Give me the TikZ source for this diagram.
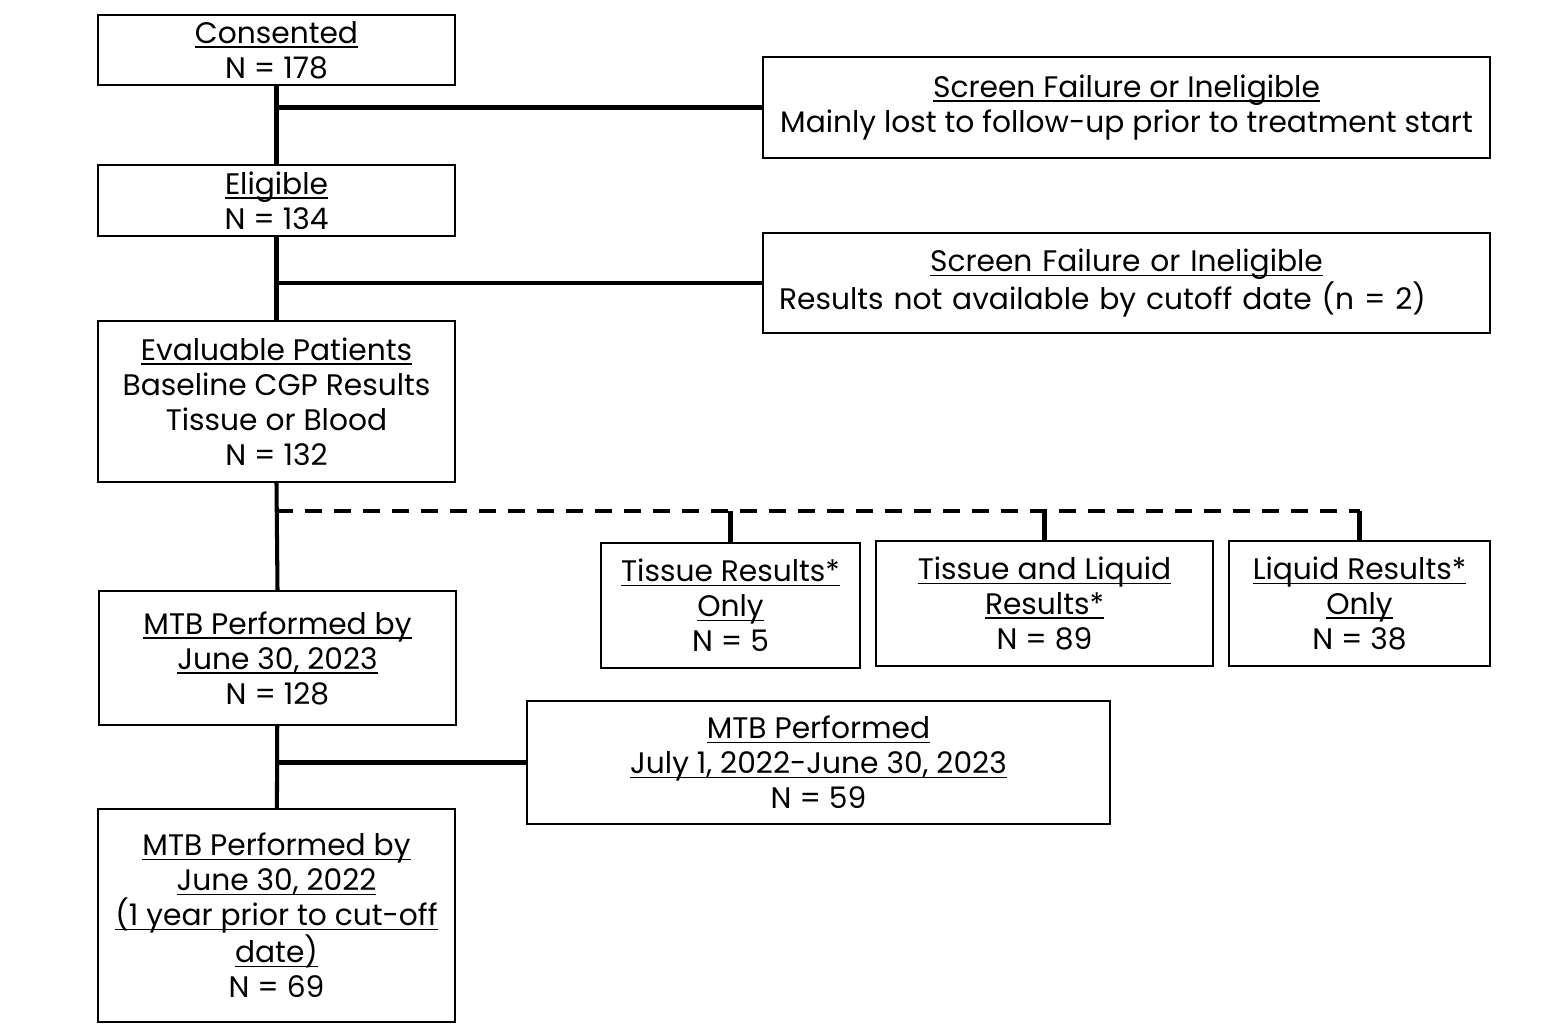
\documentclass[tikz,border=0pt]{standalone}
\usepackage{fontspec}
\setmainfont{Poppins}
\usetikzlibrary{positioning}
\definecolor{FlowInk}{HTML}{000000}
\newsavebox{\hdrbox}
\newcommand{\hdr}[1]{\sbox{\hdrbox}{#1}\leavevmode\rlap{\rule[-2.6pt]{\wd\hdrbox}{0.9pt}}\usebox{\hdrbox}}

\begin{document}
\begin{tikzpicture}[x=0.02cm, y=-0.02cm,
  stage/.style={draw=FlowInk, line width=1.3pt, align=center, inner sep=2pt,
                font=\fontsize{16.9}{19.9}\selectfont},
  trunk/.style={draw=FlowInk, line width=2.3pt},
  split/.style={draw=FlowInk, line width=2.3pt, dash pattern=on 0.34cm off 0.24cm}
]
\useasboundingbox (0,0) rectangle (1563,1028);
\node[stage, minimum width=7.14cm, minimum height=1.4cm] (cons) at (276.5,50)
  {\hdr{Consented}\\N = 178};
\node[stage, minimum width=14.54cm, minimum height=2.02cm] (scr1) at (1126.5,107.5)
  {\hdr{Screen Failure or Ineligible}\\Mainly lost to follow-up prior to treatment start};
\node[stage, minimum width=7.14cm, minimum height=1.42cm] (elig) at (276.5,200.5)
  {\hdr{Eligible}\\N = 134};
\node[stage, minimum width=14.54cm, minimum height=2.0cm, text width=13.9cm, align=left] (scr2) at (1126.5,283)
  {{\centering\hdr{Screen Failure or Ineligible}\par}
   Results not available by cutoff date (n = 2)};
\node[stage, minimum width=7.14cm, minimum height=3.22cm] (eval) at (276.5,401.5)
  {\hdr{Evaluable Patients}\\Baseline CGP Results\\Tissue or Blood\\N = 132};
\node[stage, minimum width=7.14cm, minimum height=2.68cm] (mtb1) at (277.5,658)
  {\hdr{MTB Performed by}\\\hdr{June 30, 2023}\\N = 128};
\node[stage, minimum width=5.18cm, minimum height=2.5cm] (tis) at (730.5,605.5)
  {\hdr{Tissue Results*}\\\hdr{Only}\\N = 5};
\node[stage, minimum width=6.74cm, minimum height=2.5cm] (both) at (1044.5,603.5)
  {\hdr{Tissue and Liquid}\\\hdr{Results*}\\N = 89};
\node[stage, minimum width=5.22cm, minimum height=2.5cm] (liq) at (1359.5,603.5)
  {\hdr{Liquid Results*}\\\hdr{Only}\\N = 38};
\node[stage, minimum width=11.66cm, minimum height=2.46cm] (july) at (818.5,762.5)
  {\hdr{MTB Performed}\\\hdr{July 1, 2022-June 30, 2023}\\N = 59};
\node[stage, minimum width=7.14cm, minimum height=4.26cm] (mtb2) at (276.5,915.5)
  {\hdr{MTB Performed by}\\\hdr{June 30, 2022}\\\hdr{(1 year prior to cut-off}\\\hdr{date)}\\N = 69};
\coordinate (fork) at (276.5,511);
% main line and side branches
\draw[trunk] (cons) -- (elig);
\draw[trunk] (cons.south |- scr1.west) -- (scr1.west);
\draw[trunk] (elig) -- (eval);
\draw[trunk] (elig.south |- scr2.west) -- (scr2.west);
\draw[trunk] (eval.south) -- (mtb1.north);
\draw[split] (fork) -- (liq.north |- fork);
\draw[trunk] (tis.north |- fork) -- (tis.north);
\draw[trunk] (both.north |- fork) -- (both.north);
\draw[trunk] (liq.north |- fork) -- (liq.north);
\draw[trunk] (mtb1) -- (mtb2);
\draw[trunk] (mtb1.south |- july.west) -- (july.west);
\end{tikzpicture}
\end{document}
